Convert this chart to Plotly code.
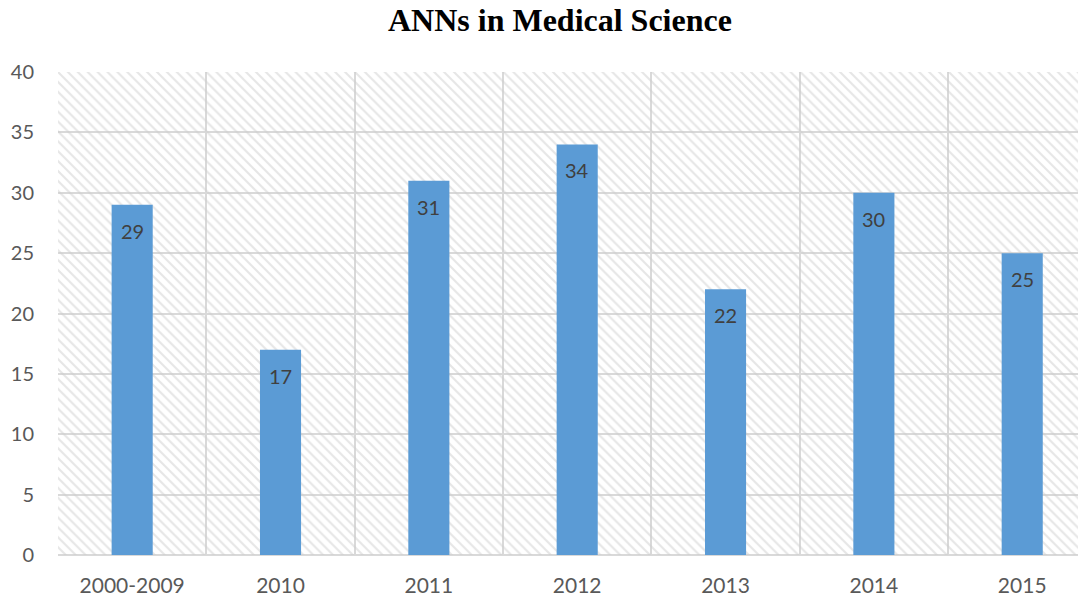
import plotly.graph_objects as go

categories = ["2000-2009", "2010", "2011", "2012", "2013", "2014", "2015"]
values = [29, 17, 31, 34, 22, 30, 25]
y_max = 40
y_ticks = [0, 5, 10, 15, 20, 25, 30, 35, 40]

xpos = list(range(len(categories)))
FONT = "Lato, Open Sans, sans-serif"

fig = go.Figure()

# hatched plot background
fig.add_trace(go.Bar(
    x=xpos, y=[y_max] * len(categories), width=1,
    marker=dict(color="rgba(0,0,0,0)", line=dict(width=0),
                pattern=dict(shape="\\", fgcolor="#cdcdcd", bgcolor="rgba(0,0,0,0)",
                             size=7, solidity=0.3)),
    hoverinfo="skip", showlegend=False,
))

fig.add_trace(go.Bar(
    x=xpos, y=values, width=0.277,
    marker=dict(color="#5B9BD5", line=dict(width=0)),
    hoverinfo="x+y", showlegend=False,
))

for xi, v in zip(xpos, values):
    fig.add_annotation(x=xi, y=v, text=str(v), showarrow=False,
                       yanchor="top", yshift=-12,
                       font=dict(family=FONT, size=20, color="#404040"))

fig.update_layout(
    width=1078, height=589,
    margin=dict(l=50, r=0, t=64, b=42),
    paper_bgcolor="white", plot_bgcolor="white",
    barmode="overlay",
    title=dict(text="<b>ANNs in Medical Science</b>", x=0.512, xanchor="center",
               y=0.98, yanchor="middle",
               font=dict(family="Liberation Serif, Times New Roman, serif", size=32, color="black")),
    xaxis=dict(
        range=[-0.5, 6.43], automargin=False,
        tickmode="array", tickvals=xpos, ticktext=categories,
        showgrid=False, zeroline=False, ticks="", ticklabelstandoff=16,
        tickfont=dict(family=FONT, size=21, color="#595959"),
        minor=dict(tick0=-0.5, dtick=1, showgrid=True, gridcolor="#d9d9d9", gridwidth=1.5, ticks=""),
        showline=False,
    ),
    yaxis=dict(
        range=[0, y_max], tickmode="array", tickvals=y_ticks, automargin=False,
        showgrid=True, gridcolor="#d9d9d9", gridwidth=1.5,
        zeroline=True, zerolinecolor="#d9d9d9", zerolinewidth=1.5,
        ticks="", ticklabelstandoff=23,
        tickfont=dict(family=FONT, size=20, color="#595959"),
    ),
)

fig.write_html("out.html")
